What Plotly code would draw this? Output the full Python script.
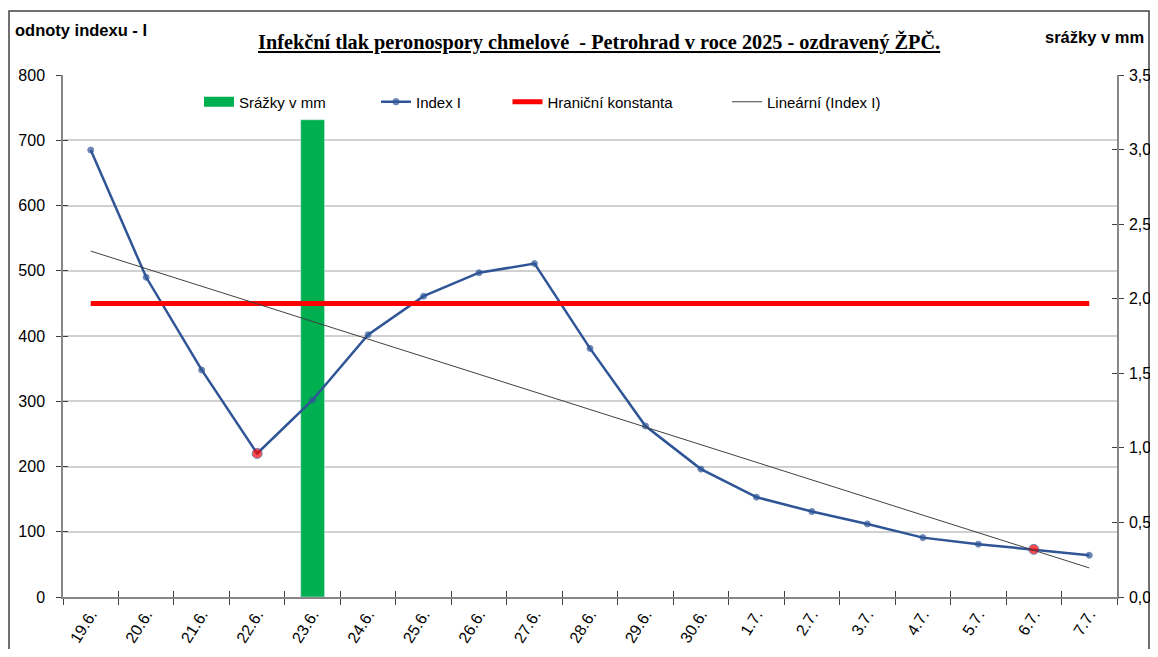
import numpy as np
import plotly.graph_objects as go

# data
dates = ["19.6.", "20.6.", "21.6.", "22.6.", "23.6.", "24.6.", "25.6.", "26.6.", "27.6.",
         "28.6.", "29.6.", "30.6.", "1.7.", "2.7.", "3.7.", "4.7.", "5.7.", "6.7.", "7.7."]
index_i = [685, 490, 348, 220, 302, 402, 461, 497, 511, 381, 262, 196, 153, 131, 112, 91, 81, 73, 64]
rain_dates = ["23.6."]
rain_mm = [3.2]
limit_const = 450
highlight_dates = ["22.6.", "6.7."]

# Excel-style linear trendline of Index I
pos = np.arange(len(dates))
coef = np.polyfit(pos, index_i, 1)
trend = np.polyval(coef, pos)

BLUE = "#2F5597"
GREEN = "#00B050"
RED = "#FF0000"
FONT = "Liberation Sans"

marker_colors = [RED if d in highlight_dates else BLUE for d in dates]
marker_sizes = [10 if d in highlight_dates else 6 for d in dates]

# the page body has an 8px margin, so the figure starts at (8, 8);
# keep it short enough that no scrollbar appears
OFF = 8
W, H = 1158 - OFF, 657 - 2 * OFF
# plot area in window pixels: x 63..1117, y 75..597
L, R, T, B = 63, 1117, 75, 597


def px(x):
    return (x - L) / (R - L)


def py(y):
    return (B - y) / (B - T)


fig = go.Figure()

fig.add_trace(go.Bar(x=rain_dates, y=rain_mm, marker_color=GREEN, width=0.43,
                     showlegend=False, hoverinfo="skip", xaxis="x", yaxis="y"))
# legend entry for the rain bars (wide box like the original)
fig.add_trace(go.Scatter(x=[None], y=[None], mode="lines", name="Srážky v mm",
                         line=dict(color=GREEN, width=12), legend="legend"))

fig.add_trace(go.Scatter(x=dates, y=index_i, mode="lines+markers", name="Index I",
                         line=dict(color=BLUE, width=2.5),
                         marker=dict(color=marker_colors, size=marker_sizes),
                         xaxis="x", yaxis="y2", legend="legend2"))

fig.add_trace(go.Scatter(x=dates, y=[limit_const] * len(dates), mode="lines",
                         name="Hraniční konstanta", line=dict(color=RED, width=5),
                         xaxis="x", yaxis="y2", legend="legend3"))

fig.add_trace(go.Scatter(x=dates, y=trend, mode="lines", name="Lineární (Index I)",
                         line=dict(color="#404040", width=1),
                         xaxis="x2", yaxis="y3", legend="legend4"))

fig.add_trace(go.Scatter(x=[], y=[], showlegend=False, hoverinfo="skip",
                         xaxis="x2", yaxis="y4"))

axis_col = "#868686"
tick_font = dict(family=FONT, size=16, color="#000000")
cat_axis = dict(type="category", categoryorder="array", categoryarray=dates,
                range=[-0.5, len(dates) - 0.5], tickson="boundaries", automargin=False,
                showgrid=False, zeroline=False, ticklen=6, tickcolor="#404040")

legend_base = dict(orientation="h", yanchor="middle", y=py(102), xanchor="left",
                   bgcolor="rgba(0,0,0,0)", font=dict(family=FONT, size=15, color="#000000"),
                   itemwidth=30)

fig.update_layout(
    width=W, height=H,
    margin=dict(l=L - OFF, r=W - (R - OFF), t=T - OFF, b=H - (B - OFF)),
    paper_bgcolor="white", plot_bgcolor="white",
    separators=", ",
    barmode="overlay",
    xaxis=dict(cat_axis, ticks="outside", showline=True, linecolor=axis_col, linewidth=1.5,
               tickangle=-58, tickfont=dict(family=FONT, size=16, color="#000000"),
               anchor="y"),
    xaxis2=dict(cat_axis, ticks="inside", overlaying="x", showline=False,
                showticklabels=False, anchor="y3"),
    yaxis=dict(side="right", range=[0, 3.5], dtick=0.5, tickformat=".1f",
               showgrid=False, zeroline=False, showline=True, linecolor=axis_col,
               linewidth=1.5, ticks="outside", ticklen=5, tickcolor="#404040",
               tickfont=tick_font, ticklabelstandoff=2, anchor="x", automargin=False),
    yaxis2=dict(side="left", overlaying="y", range=[0, 800], dtick=100,
                showgrid=True, gridcolor="#D0D0D0", gridwidth=1.5, zeroline=False,
                showline=True, linecolor=axis_col, linewidth=1.5, ticks="outside",
                ticklen=5, tickcolor="#404040", tickfont=tick_font,
                ticklabelstandoff=8, anchor="x", automargin=False),
    yaxis3=dict(side="left", overlaying="y", range=[0, 800], dtick=100,
                showgrid=False, zeroline=False, showline=False, ticks="inside",
                ticklen=5, tickcolor="#404040", showticklabels=False, anchor="x2",
                automargin=False),
    yaxis4=dict(side="right", overlaying="y", range=[0, 3.5], dtick=0.5,
                showgrid=False, zeroline=False, showline=False, ticks="inside",
                ticklen=5, tickcolor="#404040", showticklabels=False, anchor="x2",
                automargin=False),
    legend=dict(legend_base, x=px(199)),
    legend2=dict(legend_base, x=px(376)),
    legend3=dict(legend_base, x=px(507.5)),
    legend4=dict(legend_base, x=px(727)),
    shapes=[dict(type="rect", xref="paper", yref="paper",
                 x0=px(9), x1=px(1149), y0=py(680), y1=py(11),
                 line=dict(color="#404040", width=1.5), fillcolor="rgba(0,0,0,0)",
                 layer="below")],
    annotations=[
        dict(text="<b><u>Infekční tlak peronospory chmelové  - Petrohrad v roce 2025 - ozdravený ŽPČ.</u></b>",
             xref="paper", yref="paper", x=px(599), y=py(42), showarrow=False,
             xanchor="center", yanchor="middle",
             font=dict(family="Liberation Serif", size=20.3, color="#000000")),
        dict(text="<b>odnoty indexu - I</b>", xref="paper", yref="paper",
             x=px(13), y=py(30), showarrow=False, xanchor="left", yanchor="middle",
             font=dict(family=FONT, size=16.5, color="#000000")),
        dict(text="<b>srážky v mm</b>", xref="paper", yref="paper",
             x=px(1146), y=py(37), showarrow=False, xanchor="right", yanchor="middle",
             font=dict(family=FONT, size=16.5, color="#000000")),
    ],
)

fig.write_html("out.html")
